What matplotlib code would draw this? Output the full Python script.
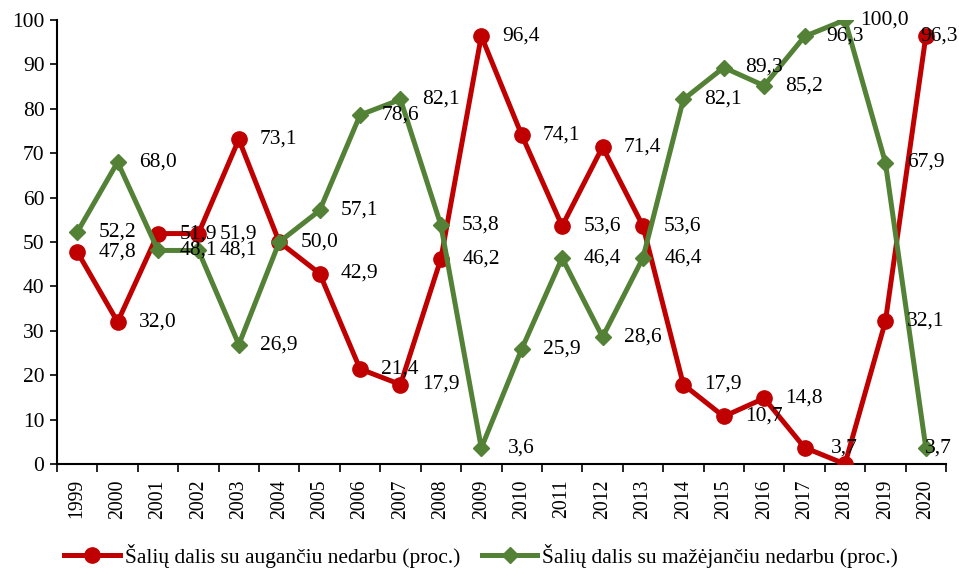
import matplotlib
matplotlib.use("Agg")
import matplotlib.pyplot as plt
from matplotlib.ticker import FixedLocator

years = ["1999", "2000", "2001", "2002", "2003", "2004", "2005", "2006", "2007", "2008",
         "2009", "2010", "2011", "2012", "2013", "2014", "2015", "2016", "2017", "2018",
         "2019", "2020"]
rising = [47.8, 32.0, 51.9, 51.9, 73.1, 50.0, 42.9, 21.4, 17.9, 46.2,
          96.4, 74.1, 53.6, 71.4, 53.6, 17.9, 10.7, 14.8, 3.7, 0.0, 32.1, 96.3]
falling = [52.2, 68.0, 48.1, 48.1, 26.9, 50.0, 57.1, 78.6, 82.1, 53.8,
           3.6, 25.9, 46.4, 28.6, 46.4, 82.1, 89.3, 85.2, 96.3, 100.0, 67.9, 3.7]
label_rising = "Šalių dalis su augančiu nedarbu (proc.)"
label_falling = "Šalių dalis su mažėjančiu nedarbu (proc.)"

RED = "#C00000"
GREEN = "#538135"

plt.rcParams['font.family'] = ['Liberation Serif', 'DejaVu Serif']
FS = 15.5

fig = plt.figure(figsize=(9.59, 5.69), dpi=100)
ax = fig.add_axes([57/959, 1 - 464/569, (946-57)/959, (464-20)/569])

x = list(range(len(years)))
ax.plot(x, rising, color=RED, lw=3.6, marker='o', ms=11, label=label_rising, zorder=3)
ax.plot(x, falling, color=GREEN, lw=3.6, marker='D', ms=8, label=label_falling, zorder=4)

def fmt(v):
    return f"{v:.1f}".replace(".", ",")

n = len(years)
for k, series in enumerate((rising, falling)):
    for i, v in enumerate(series):
        if v == 0:
            continue
        if k == 1 and v == rising[i]:
            continue
        dx = 40 if i < n - 1 else 13
        ax.annotate(fmt(v), (i, v), xytext=(dx * 0.72, 0), textcoords='offset points',
                    ha='center', va='center', fontsize=FS, color='black',
                    zorder=6, annotation_clip=False)

ax.set_xlim(-0.5, n - 0.5)
ax.set_ylim(0, 100)
ax.set_yticks(range(0, 101, 10))
ax.tick_params(axis='y', labelsize=FS, direction='out', length=5, width=1.2, pad=4)
ax.set_xticks(x)
ax.set_xticklabels(years, rotation=90, fontsize=14.2)
ax.tick_params(axis='x', which='major', length=0, pad=11)
ax.xaxis.set_minor_locator(FixedLocator([i - 0.5 for i in range(n + 1)]))
ax.tick_params(axis='x', which='minor', direction='out', length=6, width=1.2)

for s in ('top', 'right'):
    ax.spines[s].set_visible(False)
for s in ('left', 'bottom'):
    ax.spines[s].set_linewidth(1.5)
    ax.spines[s].set_color('black')

fig.legend(loc='center', bbox_to_anchor=(481/959, 1 - 556/569), ncol=2, frameon=False,
           fontsize=FS, handlelength=2.6, columnspacing=1.0, handletextpad=0.2)

fig.savefig("out.png", dpi=100)
